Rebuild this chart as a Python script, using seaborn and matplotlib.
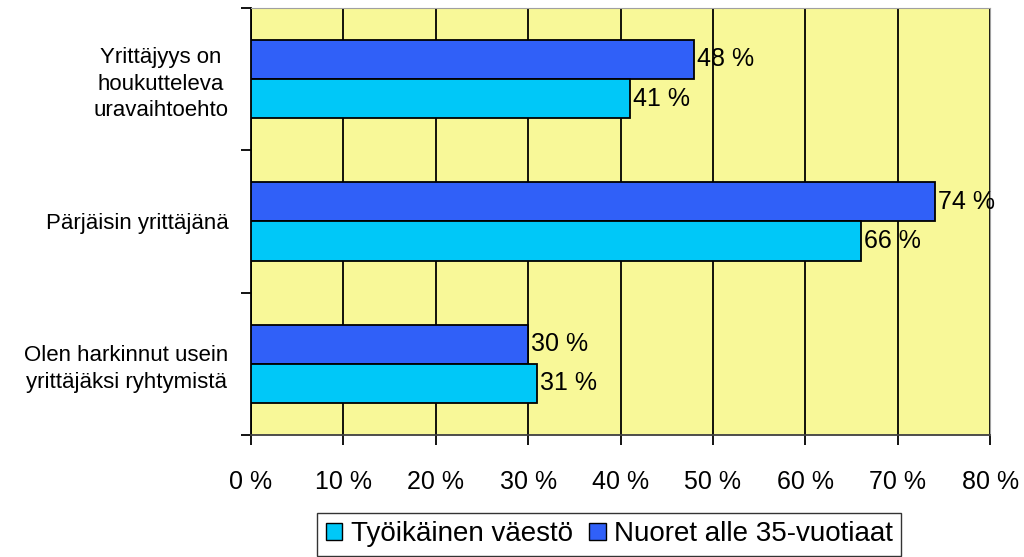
import matplotlib
matplotlib.use("Agg")
import matplotlib.pyplot as plt
import seaborn as sns
import pandas as pd

categories = [
    "Yrittäjyys on\nhoukutteleva\nuravaihtoehto",
    "Pärjäisin yrittäjänä",
    "Olen harkinnut usein\nyrittäjäksi ryhtymistä",
]
nuoret = [48, 74, 30]
tyoikainen = [41, 66, 31]
series = ["Nuoret alle 35-vuotiaat", "Työikäinen väestö"]
colors = {"Nuoret alle 35-vuotiaat": "#3060F8", "Työikäinen väestö": "#00C8F8"}

df = pd.DataFrame({
    "kategoria": categories * 2,
    "sarja": [series[0]] * 3 + [series[1]] * 3,
    "arvo": nuoret + tyoikainen,
})

sns.set_style("white")
plt.rcParams["font.family"] = ["Liberation Sans", "DejaVu Sans"]
plt.rcParams["text.color"] = "black"
plt.rcParams["xtick.color"] = "black"
plt.rcParams["ytick.color"] = "black"

fig = plt.figure(figsize=(10.24, 5.57), dpi=100)
ax = fig.add_axes([0.245, 0.219, 0.722, 0.767])
ax.set_facecolor("#F8F898")

sns.barplot(data=df, x="arvo", y="kategoria", hue="sarja", hue_order=series,
            palette=colors, saturation=1, orient="h", width=0.55,
            edgecolor="black", linewidth=1.3, ax=ax, legend=False, zorder=3)

for c in ax.containers:
    ax.bar_label(c, labels=[f"{v:.0f} %" for v in c.datavalues], padding=2,
                 fontsize=18, color="black")

ax.set_xlim(0, 80)
ax.set_xticks(range(0, 81, 10))
ax.set_xticklabels([f"{v} %" for v in range(0, 81, 10)], fontsize=18)
ax.grid(axis="x", color="black", linewidth=1.3, zorder=0)
ax.set_axisbelow(True)
ax.set_ylim(2.5, -0.5)
ax.set_yticks([-0.5, 0.5, 1.5, 2.5])
ax.set_yticklabels([])
ax.set_yticks([0, 1, 2], minor=True)
ax.set_yticklabels(categories, minor=True, fontsize=16, ha="right",
                   multialignment="center", linespacing=1.35)
ax.tick_params(axis="y", which="minor", length=0, pad=16)
ax.tick_params(axis="y", which="major", length=7, width=1.3, direction="out", left=True)
ax.tick_params(axis="x", length=7, width=1.3, direction="out", bottom=True, pad=18)
ax.set_xlabel("")
ax.set_ylabel("")

for s in ["top", "right"]:
    ax.spines[s].set_color("#A0A0A0")
ax.spines["left"].set_color("black")
ax.spines["left"].set_linewidth(1.3)
ax.spines["bottom"].set_color("#404040")
ax.spines["bottom"].set_linewidth(1.3)

handles = [plt.Rectangle((0, 0), 1, 1, facecolor=colors[s], edgecolor="black")
           for s in [series[1], series[0]]]
fig.legend(handles, [series[1], series[0]], loc="upper center",
           bbox_to_anchor=(0.595, 0.079), borderaxespad=0, ncol=2,
           frameon=True, fancybox=False, edgecolor="black", fontsize=20,
           handlelength=0.6, handleheight=0.6, handletextpad=0.3,
           columnspacing=0.6, borderpad=0.3)

fig.savefig("out.png", dpi=100)
